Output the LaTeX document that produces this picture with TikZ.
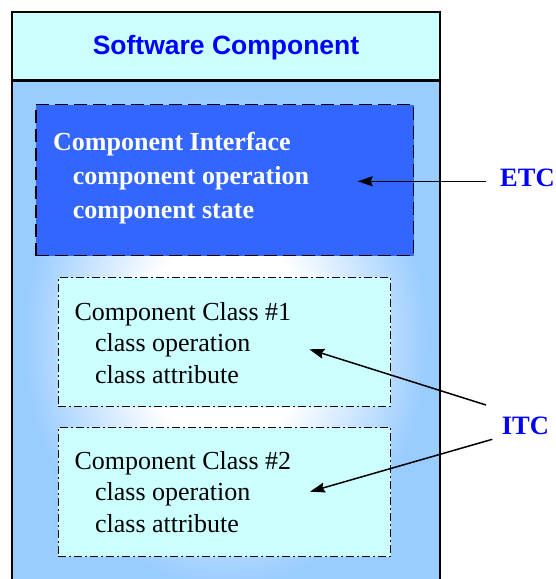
\documentclass[tikz,border=0pt]{standalone}
\usepackage{fontspec}
\setmainfont{Liberation Serif}
\setsansfont{Liberation Sans}
\usetikzlibrary{arrows.meta}

\definecolor{headcyan}{HTML}{CCFFFF}
\definecolor{bodyblue}{HTML}{99CCFF}
\definecolor{ifaceblue}{HTML}{3366FF}
\definecolor{labelblue}{HTML}{0000FF}

\tikzset{
  frame/.style={draw=black, line width=2.2pt},
  ifacebox/.style={draw=black, fill=ifaceblue, line width=1.5pt,
    dash pattern=on 13pt off 6pt, inner sep=0pt},
  classbox/.style={draw=black, fill=headcyan, line width=1.5pt,
    dash pattern=on 8pt off 3pt on 2pt off 3pt, inner sep=0pt},
  txt/.style={inner sep=0pt, anchor=base west, font=\fontsize{26}{32}\selectfont},
  ifacetxt/.style={txt, text=white, font=\fontsize{26}{32}\selectfont\bfseries},
  tag/.style={inner sep=0pt, anchor=base west, text=labelblue,
    font=\fontsize{26.5}{32}\selectfont\bfseries},
  conn/.style={line width=1.5pt, -{Stealth[length=15pt,width=10pt,inset=2pt]}}
}

\begin{document}
\begin{tikzpicture}[x=1pt,y=-1pt]
\useasboundingbox (0,0) rectangle (555,579);
\clip (0,0) rectangle (555,579);

% body of the component with a soft white glow in its middle,
% built from nested ellipses fading from blue to white
\begin{scope}
  \clip (11.7,80.5) rectangle (440,600);
  \fill[bodyblue] (11.7,80.5) rectangle (440,600);
  \foreach \k in {0,...,55}{
    \pgfmathsetmacro{\rr}{0.95-0.01*\k}
    \pgfmathsetmacro{\pp}{100*(55-\k)/55}
    \fill[bodyblue!\pp!white] (225.85,340) ellipse ({214*\rr} and {260*\rr});
  }
\end{scope}
\draw[frame] (11.7,600) -- (11.7,80.5) -- (440,80.5) -- (440,600);

% title band
\node[frame, fill=headcyan, inner sep=0pt, minimum width=428.3pt,
      minimum height=68.2pt] (head) at (225.85,46.4) {};
\node[inner sep=0pt, anchor=base, text=labelblue,
      font=\fontsize{26.5}{32}\selectfont\sffamily\bfseries]
      (title) at (226,54) {Software Component};

% component interface
\node[ifacebox, minimum width=377.7pt, minimum height=151pt]
      (iface) at (224.85,180) {};
\node[ifacetxt] (ifaceA) at (53,150)   {Component Interface};
\node[ifacetxt] (ifaceB) at (72.6,184) {component operation};
\node[ifacetxt] (ifaceC) at (72.6,218.3) {component state};

% component classes
\node[classbox, minimum width=332.4pt, minimum height=128.8pt]
      (classA) at (224.5,342.1) {};
\node[txt] (classAa) at (74.3,320)   {Component Class \#1};
\node[txt] (classAb) at (94.9,351.7) {class operation};
\node[txt] (classAc) at (94.9,383.3) {class attribute};

\node[classbox, minimum width=332.4pt, minimum height=129pt]
      (classB) at (224.5,492.2) {};
\node[txt] (classBa) at (74.3,469.3) {Component Class \#2};
\node[txt] (classBb) at (94.9,500.7) {class operation};
\node[txt] (classBc) at (94.9,532.7) {class attribute};

% external and internal labels
\node[tag] (etc) at (500,186.7) {ETC};
\node[tag] (itc) at (501.7,434)   {ITC};

\coordinate (etcFrom)  at (486,181.3);
\coordinate (etcTo)    at (357.7,181.3);
\coordinate (itcFromA) at (486,405);
\coordinate (itcToA)   at (309.3,349.3);
\coordinate (itcFromB) at (492.3,439.3);
\coordinate (itcToB)   at (310,491.7);

\draw[conn] (etcFrom) -- (etcTo);
\draw[conn] (itcFromA) -- (itcToA);
\draw[conn] (itcFromB) -- (itcToB);
\end{tikzpicture}
\end{document}
